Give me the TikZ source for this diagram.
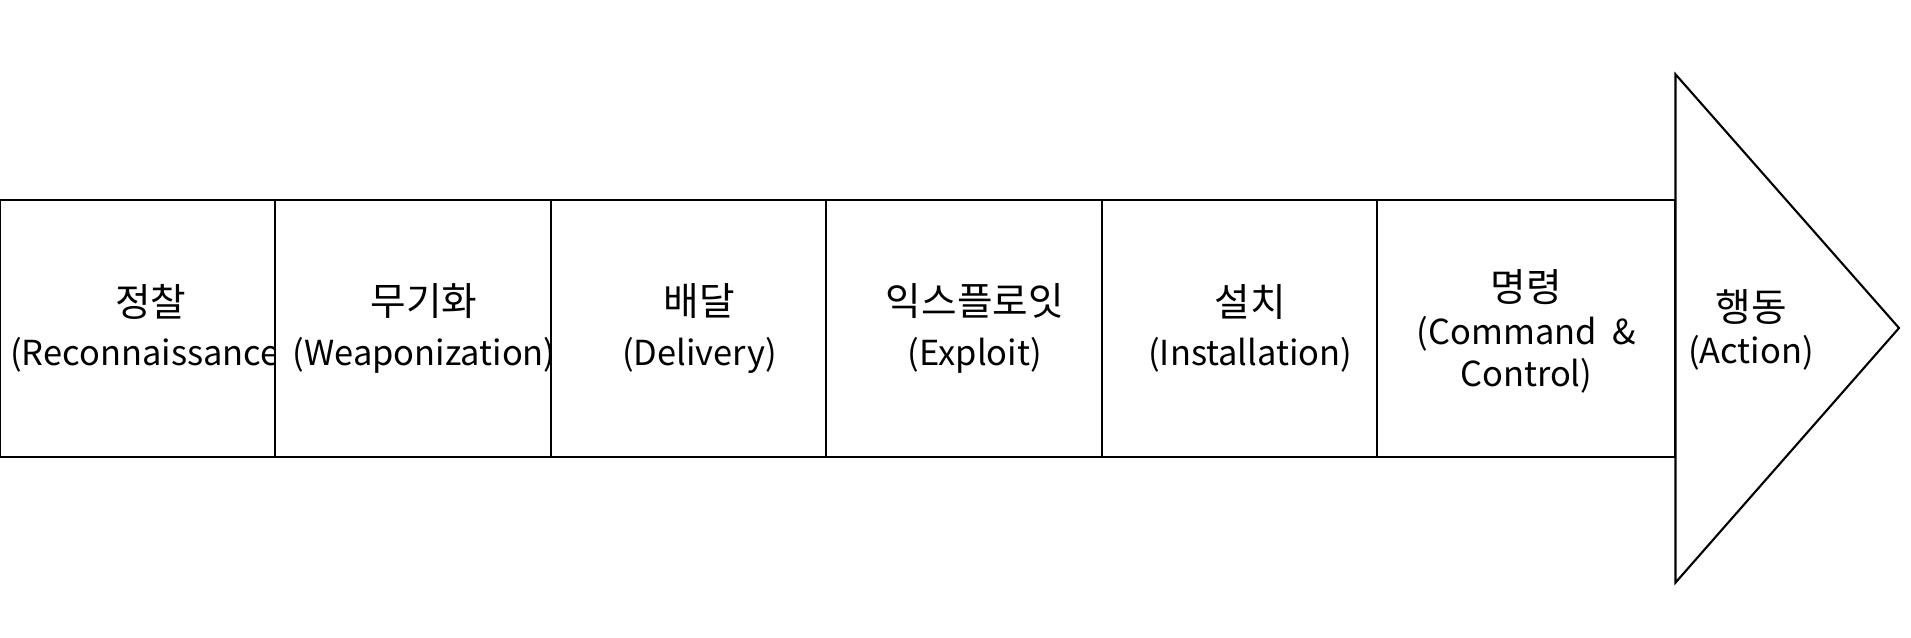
\documentclass[tikz,border=0pt]{standalone}
\usepackage{fontspec}
\setmainfont{Noto Sans CJK KR}
\usepackage{tikz}
\usetikzlibrary{positioning}
\definecolor{myline}{RGB}{0,0,0}
\definecolor{mybg}{RGB}{255,255,255}
\newcommand{\eng}{\fontsize{9.8}{12}\selectfont}
\tikzset{
  stagebox/.style={rectangle, draw=myline, fill=mybg, line width=0.6pt,
    minimum width=2.754cm, minimum height=2.57cm, inner sep=0pt, outer sep=0pt},
  stagetext/.style={align=center, font=\fontsize{11}{12}\selectfont, inner sep=0pt},
  headline/.style={draw=myline, fill=mybg, line width=0.6pt, line join=miter}
}
\begin{document}
\begin{tikzpicture}
  \useasboundingbox (0,0) rectangle (19.11,6.37);

  % Kill chain stages
  \node[stagebox, anchor=south west] (recon) at (0,1.80) {};
  \node[stagetext] (recontext) at ([xshift=1.3mm]recon.center) {정찰\\[2pt]\eng(Reconnaissance)};

  \node[stagebox, right=0pt of recon] (weapon) {};
  \node[stagetext] (weapontext) at ([xshift=1.1mm]weapon.center) {무기화\\[2pt]\eng(Weaponization)};

  \node[stagebox, right=0pt of weapon] (deliver) {};
  \node[stagetext] (delivertext) at ([xshift=1.1mm]deliver.center) {배달\\[2pt]\eng(Delivery)};

  \node[stagebox, right=0pt of deliver] (exploit) {};
  \node[stagetext] (exploittext) at ([xshift=1.1mm]exploit.center) {익스플로잇\\[2pt]\eng(Exploit)};

  \node[stagebox, right=0pt of exploit] (install) {};
  \node[stagetext] (installtext) at ([xshift=1.1mm]install.center) {설치\\[2pt]\eng(Installation)};

  \node[stagebox, right=0pt of install, minimum width=2.985cm] (command) {};
  \node[stagetext] (commandtext) at ([yshift=-0.3mm]command.center) {명령\\\eng(Command \ \&\\\eng Control)};

  % Arrow head
  \coordinate (headtop) at (command.east |- 0,5.627);
  \coordinate (headbot) at (command.east |- 0,0.544);
  \coordinate (headtip) at (18.99,3.09);
  \draw[headline] (headtop) -- (headtip) -- (headbot) -- cycle;
  \node[stagetext] (actiontext) at (17.51,3.07) {행동\\\eng(Action)};
\end{tikzpicture}
\end{document}
